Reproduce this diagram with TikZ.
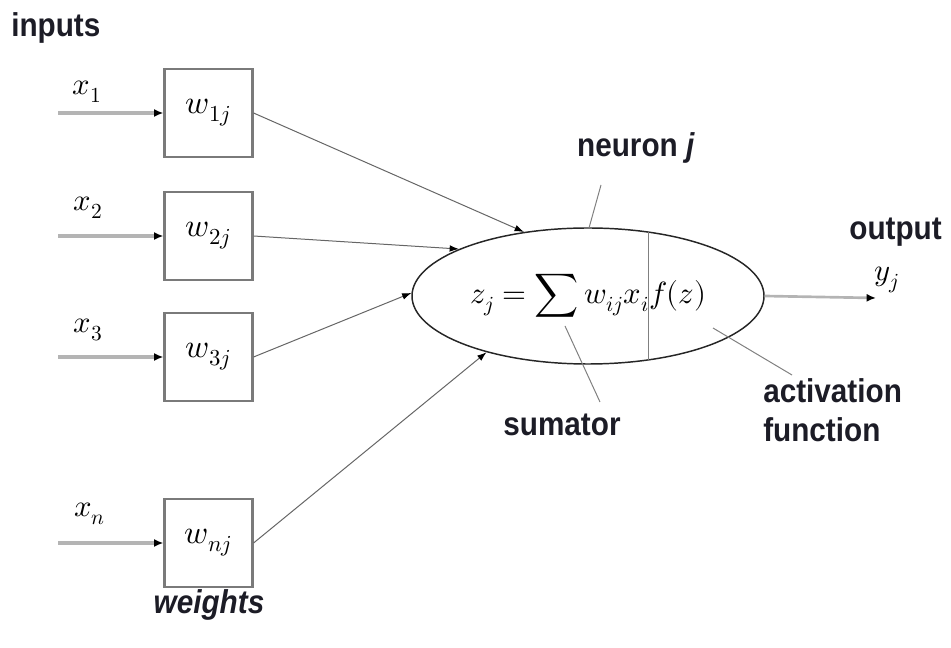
\documentclass[tikz,border=0pt]{standalone}
\usepackage{fontspec}
\usepackage{unicode-math}
\setmathfont{Latin Modern Math}
\setsansfont[FakeStretch=0.9]{Liberation Sans}
\usetikzlibrary{shapes.geometric,arrows.meta,calc}
\definecolor{boxgray}{HTML}{7A7A7A}
\definecolor{ingray}{HTML}{B4B4B4}
\definecolor{conngray}{HTML}{666666}
\definecolor{txt}{HTML}{1C1C26}
\begin{document}
\begin{tikzpicture}[x=0.75pt,y=-0.75pt,
  wbox/.style={draw=boxgray, line width=1.6pt, minimum width=66pt, minimum height=66pt, inner sep=0pt, font=\fontsize{24.5}{28}\selectfont},
  mlbl/.style={font=\fontsize{23}{27}\selectfont, inner sep=0pt},
  lbl/.style={font=\sffamily\bfseries\fontsize{24.75}{29.25}\selectfont, text=txt, inner sep=0pt},
  neuronshape/.style={ellipse, draw=black!85, line width=1.1pt, minimum width=264pt, minimum height=102pt, inner sep=0pt, font=\fontsize{23}{27}\selectfont},
  inarrow/.style={draw=ingray, line width=2.3pt, -{Latex[color=black,length=7pt,width=6pt]}},
  conn/.style={draw=conngray, line width=0.75pt, -{Latex[color=black,length=7pt,width=5pt]}},
  outarrow/.style={draw=ingray, line width=2pt, -{Latex[color=black,length=7pt,width=6pt]}},
  pointer/.style={draw=gray, line width=0.75pt}
]
\useasboundingbox (0,0) rectangle (951,648);

% weight boxes
\node[wbox] (b1) at (208.5,113) {$w_{1j}$};
\node[wbox] (b2) at (208.5,236) {$w_{2j}$};
\node[wbox] (b3) at (208.5,357) {$w_{3j}$};
\node[wbox] (bn) at (208.5,543) {$w_{nj}$};

% input labels
\node[mlbl] (x1) at (87,92) {$x_1$};
\node[mlbl] (x2) at (88,208) {$x_2$};
\node[mlbl] (x3) at (88,330) {$x_3$};
\node[mlbl] (xn) at (90,514) {$x_n$};

% input line starts
\coordinate (i1) at (58,113);
\coordinate (i2) at (58,236);
\coordinate (i3) at (58,357);
\coordinate (in) at (58,543);

\draw[inarrow] (i1) -- (b1.west);
\draw[inarrow] (i2) -- (b2.west);
\draw[inarrow] (i3) -- (b3.west);
\draw[inarrow] (in) -- (bn.west);

% neuron
\node[neuronshape] (neuron) at (588,296) {$\displaystyle z_j = \sum w_{ij}x_i f(z)$};
\draw[pointer] ($(neuron.center)+(60,-64)$) coordinate (vtop) -- ($(neuron.center)+(60,64)$) coordinate (vbot);

% connectors
\draw[conn] (b1.east) -- (neuron.135);
\draw[conn] (b2.east) -- (neuron.160);
\draw[conn] (b3.east) -- (neuron.179);
\draw[conn] (bn.east) -- (neuron.209);

% output
\coordinate (yend) at (876,298);
\draw[outarrow] (neuron.east) -- (yend);
\node[mlbl] (yj) at (887,280) {$y_j$};

% text labels
\node[lbl, anchor=west] (inputs) at (11,28) {inputs};
\node[lbl] (neuronlbl) at (636,148) {neuron \textit{j}};
\node[lbl, anchor=east] (outlbl) at (942,232) {output};
\node[lbl] (sumlbl) at (562,425) {sumator};
\node[lbl, align=left, anchor=north west] (actlbl) at (763,378) {activation\\function};
\node[lbl] (wts) at (209,605) {\itshape weights};

% pointer lines
\coordinate (nj1) at (601,185);
\coordinate (nj2) at (589,228);
\draw[pointer] (nj1) -- (nj2);
\coordinate (s1) at (565,326);
\coordinate (s2) at (600,402);
\draw[pointer] (s1) -- (s2);
\coordinate (a1) at (713,328);
\coordinate (a2) at (792,375);
\draw[pointer] (a1) -- (a2);
\end{tikzpicture}
\end{document}
